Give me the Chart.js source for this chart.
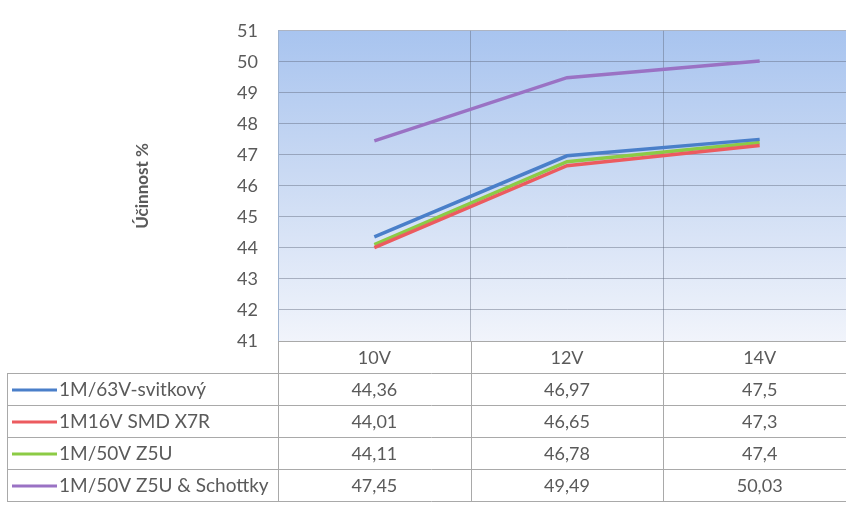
<!DOCTYPE html>
<html>
<head>
<meta charset="utf-8">
<script src="https://cdn.jsdelivr.net/npm/chart.js@4"></script>
<style>
  html, body { margin: 0; padding: 0; background: #fff; overflow: hidden; }
  #wrap { width: 856px; height: 505px; }
</style>
</head>
<body>
<div id="wrap"><canvas id="myChart" width="856" height="505"></canvas></div>
<script>
const categories = ['10V', '12V', '14V'];
const seriesNames = ['1M/63V-svitkový', '1M16V SMD X7R', '1M/50V Z5U', '1M/50V Z5U & Schottky'];
const svitkovy = [44.36, 46.97, 47.5];
const smdX7R = [44.01, 46.65, 47.3];
const z5u = [44.11, 46.78, 47.4];
const z5uSchottky = [47.45, 49.49, 50.03];
const yMin = 41;
const yMax = 51;

const seriesValues = [svitkovy, smdX7R, z5u, z5uSchottky];
const colors = ['#4a7fc9', '#ec5b5f', '#8ccb45', '#9a72c4'];

const FONT = 'Lato, "Open Sans", sans-serif';
const TEXT = '#5a5a5a';
const LINE = '#a9a9a9';

// gradient fill behind the plot, like the Excel chart
const plotBackground = {
  id: 'plotBackground',
  beforeDraw(chart) {
    const { ctx, chartArea: a } = chart;
    const g = ctx.createLinearGradient(0, a.top, 0, a.bottom);
    g.addColorStop(0, '#a8c4ef');
    g.addColorStop(0.45, '#c9d9f3');
    g.addColorStop(1, '#f1f4fb');
    ctx.save();
    ctx.fillStyle = g;
    ctx.fillRect(a.left, a.top, a.right - a.left, a.bottom - a.top);
    ctx.restore();
  },
};

// data table under the plot
const dataTable = {
  id: 'dataTable',
  afterDraw(chart) {
    const { ctx, chartArea: a } = chart;
    const x = chart.scales.x;
    const rowH = 32;
    const tableLeft = 7;
    const top = a.bottom;
    const nRows = chart.data.datasets.length;
    const half = (x.getPixelForValue(1) - x.getPixelForValue(0)) / 2;
    const colEdges = [a.left];
    for (let i = 0; i < categories.length; i++) {
      colEdges.push(x.getPixelForValue(i) + half);
    }
    ctx.save();
    ctx.strokeStyle = LINE;
    ctx.lineWidth = 1;
    ctx.beginPath();
    ctx.moveTo(a.left, top + 0.5);
    ctx.lineTo(a.right, top + 0.5);
    for (let r = 1; r <= nRows + 1; r++) {
      const y = Math.round(top + r * rowH) + 0.5;
      ctx.moveTo(tableLeft, y);
      ctx.lineTo(a.right, y);
    }
    ctx.moveTo(tableLeft + 0.5, top + rowH);
    ctx.lineTo(tableLeft + 0.5, top + rowH * (nRows + 1));
    colEdges.forEach(cx => {
      ctx.moveTo(Math.round(cx) + 0.5, top);
      ctx.lineTo(Math.round(cx) + 0.5, top + rowH * (nRows + 1));
    });
    ctx.stroke();

    ctx.font = '18px ' + FONT;
    ctx.fillStyle = TEXT;
    ctx.textAlign = 'center';
    ctx.textBaseline = 'middle';
    chart.data.labels.forEach((lab, i) => {
      ctx.fillText(lab, x.getPixelForValue(i), top + rowH / 2 + 1);
    });
    chart.data.datasets.forEach((ds, r) => {
      const cy = top + rowH * (r + 1) + rowH / 2 + 1;
      ctx.font = '18px ' + FONT;
      ctx.textAlign = 'center';
      ctx.fillStyle = TEXT;
      ds.data.forEach((v, i) => {
        ctx.fillText(String(v).replace('.', ','), x.getPixelForValue(i), cy);
      });
      ctx.strokeStyle = ds.borderColor;
      ctx.lineWidth = 3;
      ctx.beginPath();
      ctx.moveTo(12, cy);
      ctx.lineTo(57, cy);
      ctx.stroke();
      ctx.textAlign = 'left';
      ctx.font = '19px ' + FONT;
      ctx.fillText(ds.label, 59, cy);
    });
    ctx.restore();
  },
};

const data = {
  labels: categories,
  datasets: seriesValues.map((vals, i) => ({
    label: seriesNames[i],
    data: vals,
    borderColor: colors[i],
    backgroundColor: colors[i],
    borderWidth: 3.5,
    pointRadius: 0,
    tension: 0,
  })),
};

const config = {
  type: 'line',
  data: data,
  options: {
    responsive: false,
    animation: false,
    layout: { padding: { top: 22, bottom: 164, left: 0, right: 0 } },
    plugins: {
      legend: { display: false },
      tooltip: { enabled: false },
    },
    scales: {
      x: {
        offset: true,
        grid: { offset: true, color: 'rgba(95,105,125,0.45)', drawTicks: false },
        border: { display: false },
        ticks: { display: false },
        afterFit(scale) { scale.height = 0; },
      },
      y: {
        min: yMin,
        max: yMax,
        ticks: {
          stepSize: 1,
          padding: 20,
          color: TEXT,
          font: { family: FONT, size: 18 },
        },
        grid: { color: 'rgba(95,105,125,0.45)', drawTicks: false },
        border: { color: '#9fb3cf' },
        title: {
          display: true,
          text: 'Účinnost %',
          color: TEXT,
          font: { family: FONT, size: 17, weight: 'bold' },
          padding: { top: 132, bottom: 0 },
        },
        afterFit(scale) { scale.width = 278; },
      },
    },
  },
  plugins: [plotBackground, dataTable],
};

const myChart = new Chart(document.getElementById('myChart'), config);
</script>
</body>
</html>
